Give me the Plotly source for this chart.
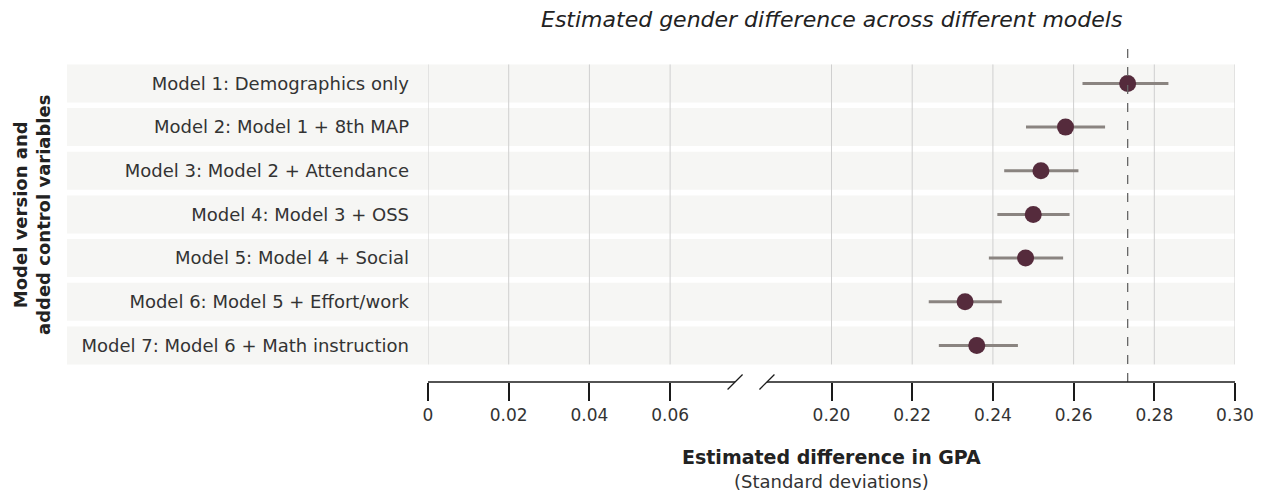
import plotly.graph_objects as go

# ---- data ----
models = [
    "Model 1: Demographics only",
    "Model 2: Model 1 + 8th MAP",
    "Model 3: Model 2 + Attendance",
    "Model 4: Model 3 + OSS",
    "Model 5: Model 4 + Social",
    "Model 6: Model 5 + Effort/work",
    "Model 7: Model 6 + Math instruction",
]
estimates = [0.2734, 0.2580, 0.2519, 0.2500, 0.2481, 0.2331, 0.2360]
ci_low = [0.2622, 0.2482, 0.2428, 0.2411, 0.2390, 0.2241, 0.2266]
ci_high = [0.2835, 0.2678, 0.2612, 0.2590, 0.2574, 0.2422, 0.2462]
tick_values = [0, 0.02, 0.04, 0.06, 0.20, 0.22, 0.24, 0.26, 0.28, 0.30]
tick_labels = ["0", "0.02", "0.04", "0.06", "0.20", "0.22", "0.24", "0.26", "0.28", "0.30"]

# broken axis: values >= 0.1 are shifted left by 0.10
GAP = 0.10
BREAK_L, BREAK_R = 0.0761, 0.0840


def m(v):
    return v if v < 0.1 else v - GAP


FONT = "DejaVu Sans"
POINT = "#552b3c"
CI = "#8a8480"
BAND = "#f6f6f4"
GRID = "#cfcfcf"

ys = list(range(len(models)))
xm = [m(v) for v in estimates]
err_plus = [m(h) - m(e) for h, e in zip(ci_high, estimates)]
err_minus = [m(e) - m(l) for l, e in zip(ci_low, estimates)]

fig = go.Figure()
fig.add_trace(go.Scatter(
    x=xm, y=ys, mode="markers",
    marker=dict(color=POINT, size=17, line=dict(width=0)),
    error_x=dict(type="data", symmetric=False, array=err_plus, arrayminus=err_minus,
                 color=CI, thickness=3, width=0),
    showlegend=False, hoverinfo="skip",
))

shapes = []
# background bands
x_left_paper = (67 - 428) / 807
for y in ys:
    shapes.append(dict(type="rect", xref="paper", yref="y", x0=x_left_paper, x1=1.0,
                       y0=y - 0.435, y1=y + 0.435, fillcolor=BAND, line=dict(width=0),
                       layer="below"))
# vertical gridlines over band area
for v in tick_values:
    shapes.append(dict(type="line", xref="x", yref="y", x0=m(v), x1=m(v),
                       y0=-0.435, y1=len(models) - 1 + 0.435,
                       line=dict(color=GRID, width=1), layer="below"))
# reference dashed line at Model 1 estimate
shapes.append(dict(type="line", xref="x", yref="paper", x0=m(estimates[0]), x1=m(estimates[0]),
                   y0=0.0, y1=1.0, line=dict(color="#666666", width=1.3, dash="dash")))
# axis line with break
shapes.append(dict(type="line", xref="x", yref="paper", x0=0, x1=BREAK_L, y0=0, y1=0,
                   line=dict(color="#1a1a1a", width=1.5)))
shapes.append(dict(type="line", xref="x", yref="paper", x0=BREAK_R, x1=m(0.30), y0=0, y1=0,
                   line=dict(color="#1a1a1a", width=1.5)))
dx = 7.5 / 4035
dy = 7.5 / 335
for bx in (BREAK_L, BREAK_R):
    shapes.append(dict(type="line", xref="x", yref="paper", x0=bx - dx, x1=bx + dx,
                       y0=-dy, y1=dy, line=dict(color="#1a1a1a", width=1.3)))

annotations = [
    dict(text="<i>Estimated gender difference across different models</i>",
         xref="paper", yref="paper", x=0.5, y=(492 - 20 - 110) / 335, xanchor="center",
         yanchor="middle", showarrow=False,
         font=dict(family=FONT, size=22, color="#222222")),
    dict(text="Model version and<br>added control variables", textangle=-90,
         xref="paper", yref="paper", x=(32 - 428) / 807, y=(382 - 215) / 335,
         xanchor="center", yanchor="middle", showarrow=False,
         font=dict(family=FONT, size=18, color="#222222", weight="bold")),
    dict(text="Estimated difference in GPA", xref="paper", yref="paper",
         x=0.5, y=-(457 - 382) / 335, xanchor="center", yanchor="middle", showarrow=False,
         font=dict(family=FONT, size=19, color="#222222", weight="bold")),
    dict(text="(Standard deviations)", xref="paper", yref="paper",
         x=0.5, y=-(481 - 382) / 335, xanchor="center", yanchor="middle", showarrow=False,
         font=dict(family=FONT, size=18, color="#333333")),
]

fig.update_layout(
    width=1265, height=492,
    margin=dict(l=428, r=30, t=47, b=110),
    paper_bgcolor="white", plot_bgcolor="white",
    shapes=shapes, annotations=annotations,
    xaxis=dict(range=[0, m(0.30)], tickvals=[m(v) for v in tick_values], ticktext=tick_labels,
               ticks="outside", ticklen=18, tickwidth=1.5, tickcolor="#1a1a1a",
               showgrid=False, zeroline=False, showline=False,
               tickfont=dict(family=FONT, size=17, color="#333333")),
    yaxis=dict(range=[6.838, -0.835], tickvals=ys, ticktext=models, ticks="",
               showgrid=False, zeroline=False, showline=False, ticklabelstandoff=18,
               tickfont=dict(family=FONT, size=18, color="#333333")),
)

fig.write_html("out.html", config={"displayModeBar": False},
               post_script="document.body.style.margin='0';")
